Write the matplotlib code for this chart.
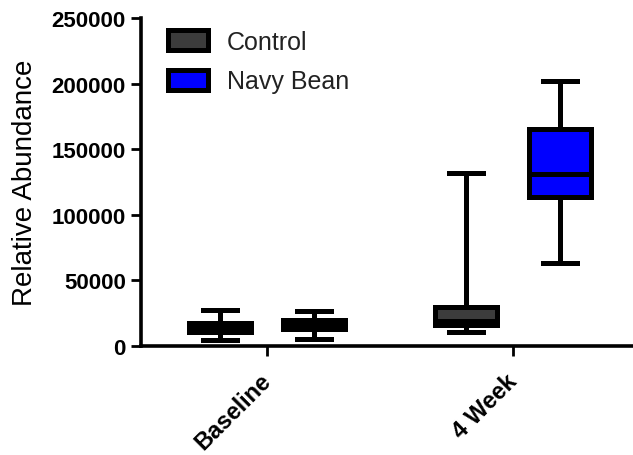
import numpy as np
import matplotlib
matplotlib.use('Agg')
import matplotlib.pyplot as plt
import matplotlib.transforms as mtransforms
from matplotlib.patches import Patch

plt.rcParams['font.family'] = ['Liberation Sans', 'DejaVu Sans']

categories = ['Baseline', '4 Week']
groups = ['Control', 'Navy Bean']
group_colors = ['#3c3c3c', '#0000ff']

# box statistics per group, one value per category
control_whislo = [4300, 11000]
control_q1 = [10900, 15800]
control_med = [14100, 19000]
control_q3 = [17300, 30000]
control_whishi = [27800, 131700]

navy_whislo = [5300, 63600]
navy_q1 = [12600, 113500]
navy_med = [16200, 131400]
navy_q3 = [19800, 165600]
navy_whishi = [27000, 202300]

stats = {
    'Control': (control_whislo, control_q1, control_med, control_q3, control_whishi),
    'Navy Bean': (navy_whislo, navy_q1, navy_med, navy_q3, navy_whishi),
}

fig = plt.figure(figsize=(6.33, 4.56), dpi=100)
ax = fig.add_axes([141 / 633, 1 - 347 / 456, 1 - 141 / 633, (347 - 19) / 456])

lw = 3.6
offset = 0.191
x = np.arange(1, len(categories) + 1)

for g, (name, color) in enumerate(zip(groups, group_colors)):
    lo, q1, med, q3, hi = stats[name]
    bstats = [dict(whislo=lo[i], q1=q1[i], med=med[i], q3=q3[i], whishi=hi[i], fliers=[])
              for i in range(len(categories))]
    pos = x + (offset if g else -offset)
    ax.bxp(bstats, positions=pos, widths=0.25, capwidths=0.14, patch_artist=True,
           showfliers=False, manage_ticks=False,
           boxprops=dict(facecolor=color, edgecolor='black', linewidth=lw),
           medianprops=dict(color='black', linewidth=lw),
           whiskerprops=dict(color='black', linewidth=lw),
           capprops=dict(color='black', linewidth=lw))

ax.set_xlim(0.488, 2.488)
ax.set_ylim(0, 250000)
ax.set_yticks(np.arange(0, 250001, 50000))
ax.set_xticks(x)
ax.set_xticklabels([])

# rotated category labels, hung just below and left of each tick
label_shift = mtransforms.ScaledTranslation(-8 / 100, -23 / 100, fig.dpi_scale_trans)
for xi, name in zip(x, categories):
    ax.text(xi, 0, name, transform=ax.get_xaxis_transform() + label_shift,
            rotation=45, ha='right', va='top', rotation_mode='anchor',
            fontsize=17, fontweight='bold')

for lab in ax.get_yticklabels():
    lab.set_fontweight('bold')
ax.tick_params(axis='y', labelsize=16, length=7, width=2, pad=4)
ax.tick_params(axis='x', length=7, width=2)

ax.spines['top'].set_visible(False)
ax.spines['right'].set_visible(False)
ax.spines['left'].set_linewidth(2.6)
ax.spines['bottom'].set_linewidth(2.6)

ax.set_ylabel('Relative Abundance', fontsize=20)
ax.yaxis.set_label_coords(-0.21, 0.5)

handles = [Patch(facecolor=c, edgecolor='black', linewidth=lw, joinstyle='round')
           for c in group_colors]
leg = fig.legend(handles, groups, loc='upper left', bbox_to_anchor=(168 / 633, 1 - 31 / 456),
                 frameon=False, fontsize=18, handlelength=1.6, handleheight=0.85,
                 handletextpad=0.75, labelspacing=0.62, borderpad=0, borderaxespad=0)
for t in leg.get_texts():
    t.set_color('#222222')

plt.savefig('out.png', dpi=100)
